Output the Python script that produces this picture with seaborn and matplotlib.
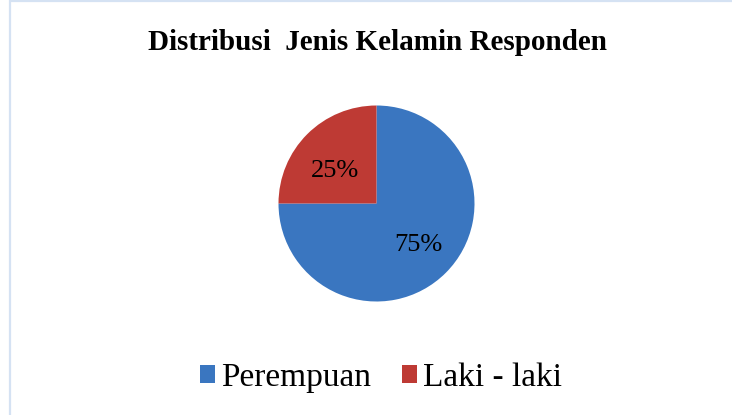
import matplotlib
matplotlib.use("Agg")
import matplotlib.pyplot as plt
from matplotlib.patches import Rectangle, Patch
import seaborn as sns

# data
labels = ["Perempuan", "Laki - laki"]
shares = [75, 25]
colors = ["#3A76C0", "#BE3A34"]
title = "Distribusi  Jenis Kelamin Responden"

sns.set_theme(style="white")
plt.rcParams["font.family"] = ["Liberation Serif", "DejaVu Serif"]
plt.rcParams["text.color"] = "black"

fig = plt.figure(figsize=(7.32, 4.15), dpi=100)
fig.patch.set_facecolor("white")

# light frame around chart area (left and top edges visible)
fig.patches.append(Rectangle((10 / 732, -0.05), 1.2, 1.05 - 1.5 / 415,
                             transform=fig.transFigure, fill=False,
                             edgecolor="#D5E2F3", linewidth=1.6))

ax = fig.add_axes([278.5 / 732, 113.5 / 415, 196 / 732, 196 / 415])
wedges, texts, autotexts = ax.pie(
    shares, colors=colors, startangle=90, counterclock=False,
    autopct="%d%%", pctdistance=0.6,
    wedgeprops={"linewidth": 0},
    textprops={"fontsize": 19, "color": "black"},
)
ax.set_xlim(-1, 1)
ax.set_ylim(-1, 1)
ax.set_aspect("equal")
# Excel-style label placement: 25% label sits a bit lower in its wedge
autotexts[1].set_va("top")
autotexts[1].set_y(autotexts[1].get_position()[1] + 0.02)

fig.text(378 / 732, 1 - 43 / 415, title, ha="center", va="center",
         fontsize=21, fontweight="bold", color="black")

handles = [Patch(facecolor=c, edgecolor="none") for c in colors]
leg = fig.legend(handles, labels, loc="center", bbox_to_anchor=(381 / 732, 1 - 378 / 415),
                 ncol=2, frameon=False, fontsize=24, handlelength=0.45,
                 handleheight=0.45, handletextpad=0.2, columnspacing=0.9)
for t in leg.get_texts():
    t.set_color("black")

fig.savefig("out.png", dpi=100)
